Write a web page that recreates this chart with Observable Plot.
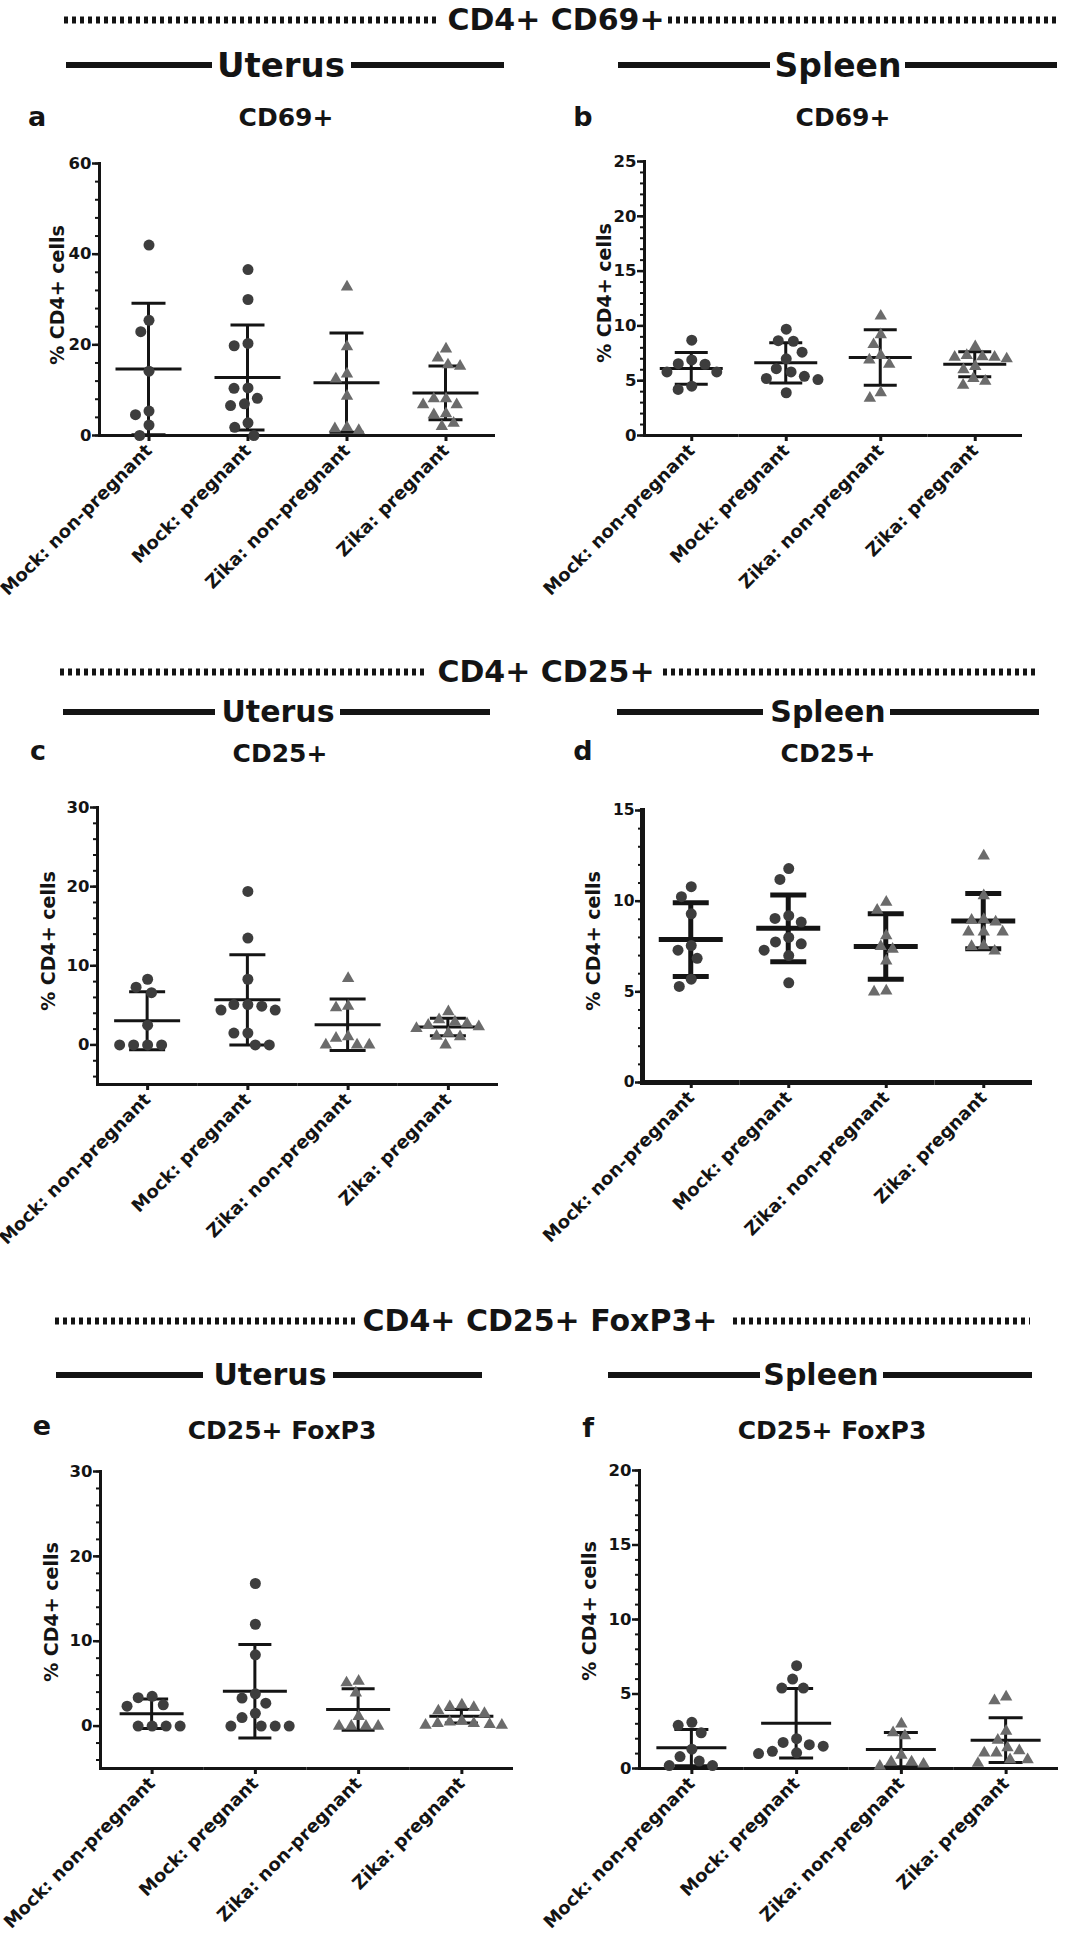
<!DOCTYPE html>
<html>
<head>
<meta charset="utf-8">
<script src="https://cdn.jsdelivr.net/npm/d3@7"></script>
<script src="https://cdn.jsdelivr.net/npm/@observablehq/plot@0.6"></script>
<style>
  body { margin: 0; background: #fff; }
  #page { position: relative; width: 1085px; height: 1950px; overflow: hidden;
          font-family: "DejaVu Sans", sans-serif; font-weight: bold; color: #141414; background: #fff; }
  .t { position: absolute; transform: translate(-50%, -50%); white-space: nowrap; line-height: 1; }
  .ylab { position: absolute; transform: translate(-50%, -50%) rotate(-90deg); white-space: nowrap; line-height: 1; font-size: 19px; z-index: 2; }
  .dotline { position: absolute; height: 7px; transform: translateY(-50%);
             background: repeating-linear-gradient(to right, #141414 0 4px, transparent 4px 8px); }
  .solid { position: absolute; height: 6px; transform: translateY(-50%); background: #141414; }
  .panel { position: absolute; }
</style>
</head>
<body>
<div id="page"></div>
<script>
// ---------------- data ----------------
const groups = ["Mock: non-pregnant", "Mock: pregnant", "Zika: non-pregnant", "Zika: pregnant"];
const isZika = [false, false, true, true];
const yLabel = "% CD4+ cells";

// a: Uterus CD69+
const uterusCD69 = [
  [42.0, 25.4, 22.9, 14.2, 5.4, 4.6, 2.3, 0.0],
  [36.6, 30.0, 20.3, 19.8, 10.5, 10.4, 8.2, 7.0, 6.6, 2.8, 1.8, 0.0],
  [32.8, 19.6, 13.6, 12.5, 8.7, 1.8, 1.5, 1.1],
  [19.1, 17.1, 15.6, 15.3, 8.1, 8.1, 6.8, 6.8, 4.8, 4.6, 2.7, 2.0]
];
const uterusCD69Mean = [14.65, 12.8, 11.65, 9.4];
const uterusCD69SD = [14.5, 11.6, 10.95, 5.95];
const uterusCD69Ticks = [0, 20, 40, 60];

// b: Spleen CD69+
const spleenCD69 = [
  [8.7, 6.9, 6.55, 6.5, 5.8, 5.8, 4.5, 4.2],
  [9.7, 8.65, 8.6, 7.6, 7.0, 6.1, 5.8, 5.4, 5.2, 5.1, 3.9],
  [10.9, 9.2, 8.3, 7.3, 6.9, 6.5, 3.9, 3.4],
  [8.1, 7.3, 7.2, 7.15, 7.15, 7.0, 6.3, 6.0, 5.2, 4.95, 4.6]
];
const spleenCD69Mean = [6.12, 6.63, 7.12, 6.5];
const spleenCD69SD = [1.45, 1.83, 2.53, 1.14];
const spleenCD69Ticks = [0, 5, 10, 15, 20, 25];

// c: Uterus CD25+
const uterusCD25 = [
  [8.3, 7.3, 6.6, 2.5, 0, 0, 0, 0],
  [19.4, 13.5, 8.3, 5.1, 5.1, 4.9, 4.4, 4.4, 1.5, 1.5, 0, 0],
  [8.4, 4.9, 4.7, 1.05, 0.85, 0, 0, 0],
  [4.2, 3.2, 2.9, 2.7, 2.5, 2.3, 2.1, 1.5, 1.1, 1.05, 0]
];
const uterusCD25Mean = [3.05, 5.7, 2.55, 2.27];
const uterusCD25SD = [3.67, 5.7, 3.25, 1.1];
const uterusCD25Ticks = [0, 10, 20, 30];

// d: Spleen CD25+
const spleenCD25 = [
  [10.8, 10.25, 9.3, 7.55, 7.3, 6.85, 5.7, 5.3],
  [11.8, 11.2, 9.2, 9.05, 8.85, 8.0, 7.75, 7.65, 7.3, 7.0, 5.5],
  [9.95, 9.5, 8.1, 7.5, 7.35, 6.7, 5.05, 5.0],
  [12.5, 10.3, 9.0, 8.95, 8.85, 8.3, 8.3, 8.3, 7.55, 7.5, 7.25]
];
const spleenCD25Mean = [7.88, 8.5, 7.5, 8.9];
const spleenCD25SD = [2.03, 1.84, 1.8, 1.52];
const spleenCD25Ticks = [0, 5, 10, 15];

// e: Uterus CD25+ FoxP3
const uterusFoxP3 = [
  [3.5, 3.35, 2.5, 2.35, 0, 0, 0, 0],
  [16.8, 12.0, 8.4, 3.8, 3.3, 2.7, 1.5, 1.0, 0, 0, 0, 0],
  [5.3, 5.1, 3.9, 1.15, 0, 0, 0, 0],
  [2.5, 2.3, 2.2, 1.8, 1.5, 0.6, 0.5, 0.3, 0.3, 0.2, 0.1, 0.1]
];
const uterusFoxP3Mean = [1.45, 4.1, 1.95, 1.15];
const uterusFoxP3SD = [1.74, 5.5, 2.45, 0.8];
const uterusFoxP3Ticks = [0, 10, 20, 30];

// f: Spleen CD25+ FoxP3
const spleenFoxP3 = [
  [3.1, 2.9, 2.4, 1.3, 0.8, 0.5, 0.2, 0.2],
  [6.9, 6.0, 5.4, 5.4, 2.0, 1.75, 1.6, 1.5, 1.15, 1.05, 1.0],
  [3.0, 2.4, 2.2, 0.9, 0.45, 0.45, 0.3, 0.15],
  [4.8, 4.55, 2.5, 1.9, 1.4, 1.2, 1.05, 1.05, 0.6, 0.6, 0.35]
];
const spleenFoxP3Mean = [1.4, 3.04, 1.27, 1.9];
const spleenFoxP3SD = [1.22, 2.33, 1.15, 1.5];
const spleenFoxP3Ticks = [0, 5, 10, 15, 20];

// ---------------- styles / layout ----------------
const ink = "#141414";
const mockFill = "#3d3d3d";
const zikaFill = "#6b6b6b";
const page = document.getElementById("page");

function addText(txt, x, y, size, cls) {
  const d = document.createElement("div");
  d.className = cls || "t"; d.textContent = txt;
  d.style.left = x + "px"; d.style.top = y + "px";
  if (size) d.style.fontSize = size + "px";
  page.appendChild(d);
}
function addLine(cls, x1, x2, y) {
  const d = document.createElement("div");
  d.className = cls;
  d.style.left = x1 + "px"; d.style.width = (x2 - x1) + "px"; d.style.top = y + "px";
  page.appendChild(d);
}

// Row 1
addLine("dotline", 64, 440, 20); addText("CD4+ CD69+", 556, 20, 30); addLine("dotline", 668, 1057, 20);
addLine("solid", 66, 212, 65); addText("Uterus", 281, 65, 34); addLine("solid", 351, 504, 65);
addLine("solid", 618, 770, 65); addText("Spleen", 838, 65, 33); addLine("solid", 905, 1057, 65);
addText("a", 37, 116, 27); addText("CD69+", 286, 117, 25);
addText("b", 583, 116, 27); addText("CD69+", 843, 117, 25);
// Row 2
addLine("dotline", 60, 426, 672); addText("CD4+ CD25+", 546, 672, 30); addLine("dotline", 663, 1037, 672);
addLine("solid", 63, 215, 712); addText("Uterus", 278, 712, 30); addLine("solid", 340, 490, 712);
addLine("solid", 617, 763, 712); addText("Spleen", 828, 712, 30); addLine("solid", 890, 1039, 712);
addText("c", 38, 750, 27); addText("CD25+", 280, 753, 25);
addText("d", 583, 750, 27); addText("CD25+", 828, 753, 25);
// Row 3
addLine("dotline", 55, 358, 1321); addText("CD4+ CD25+ FoxP3+", 540, 1321, 30); addLine("dotline", 733, 1030, 1321);
addLine("solid", 56, 203, 1375); addText("Uterus", 270, 1375, 30); addLine("solid", 333, 482, 1375);
addLine("solid", 608, 760, 1375); addText("Spleen", 821, 1375, 30); addLine("solid", 883, 1032, 1375);
addText("e", 42, 1425, 27); addText("CD25+ FoxP3", 282, 1430, 25);
addText("f", 588, 1427, 27); addText("CD25+ FoxP3", 832, 1430, 25);

const panels = [
  {values: uterusCD69, mean: uterusCD69Mean, sd: uterusCD69SD, major: uterusCD69Ticks, domain: [0, 60], minorStart: 0, minorStep: 4,
   left: 0, top: 140, width: 540, height: 440, mL: 99, mR: 45, mT: 23, mB: 145, lw: 3, barW: 3, meanHalf: 33, capHalf: 17, labX: 57, labY: 295, tickFont: 16.5},
  {values: spleenCD69, mean: spleenCD69Mean, sd: spleenCD69SD, major: spleenCD69Ticks, domain: [0, 25], minorStart: 0, minorStep: 1,
   left: 540, top: 140, width: 545, height: 440, mL: 104, mR: 63, mT: 21, mB: 145, lw: 3, barW: 3, meanHalf: 31.5, capHalf: 16.5, labX: 604, labY: 293, tickFont: 16.5},
  {values: uterusCD25, mean: uterusCD25Mean, sd: uterusCD25SD, major: uterusCD25Ticks, domain: [-5, 30], minorStart: -4, minorStep: 2,
   left: 0, top: 780, width: 540, height: 450, mL: 97, mR: 42, mT: 27, mB: 146, lw: 3, barW: 3, meanHalf: 33, capHalf: 18, labX: 48, labY: 941, tickFont: 16.5},
  {values: spleenCD25, mean: spleenCD25Mean, sd: spleenCD25SD, major: spleenCD25Ticks, domain: [0, 15], minorStart: 0, minorStep: 1,
   left: 540, top: 780, width: 545, height: 450, mL: 102, mR: 53, mT: 30, mB: 148, lw: 5, barW: 5, meanHalf: 32, capHalf: 18, labX: 593, labY: 941, tickFont: 15.5},
  {values: uterusFoxP3, mean: uterusFoxP3Mean, sd: uterusFoxP3SD, major: uterusFoxP3Ticks, domain: [-5, 30], minorStart: -4, minorStep: 2,
   left: 0, top: 1450, width: 540, height: 500, mL: 100, mR: 27, mT: 21, mB: 182, lw: 3, barW: 3, meanHalf: 32, capHalf: 16.5, labX: 51, labY: 1612, tickFont: 16.5},
  {values: spleenFoxP3, mean: spleenFoxP3Mean, sd: spleenFoxP3SD, major: spleenFoxP3Ticks, domain: [0, 20], minorStart: 0, minorStep: 1,
   left: 540, top: 1450, width: 545, height: 500, mL: 99, mR: 27, mT: 20, mB: 182, lw: 3, barW: 3, meanHalf: 35, capHalf: 17, labX: 589, labY: 1611, tickFont: 16.5}
];

for (const cfg of panels) {
  const pts = [];
  cfg.values.forEach((vals, gi) => vals.forEach(v => pts.push({group: groups[gi], value: v, zika: isZika[gi]})));
  const stats = groups.map((g, gi) => ({group: g, mean: cfg.mean[gi], lo: cfg.mean[gi] - cfg.sd[gi], hi: cfg.mean[gi] + cfg.sd[gi]}));
  const band = (cfg.width - cfg.mL - cfg.mR) / groups.length;
  const meanInset = band / 2 - cfg.meanHalf;
  const capInset = band / 2 - cfg.capHalf;
  const stemInset = band / 2 - cfg.barW / 2;
  const minor = d3.range(cfg.minorStart, cfg.domain[1] + 1e-9, cfg.minorStep);

  const chart = Plot.plot({
    width: cfg.width, height: cfg.height,
    marginLeft: cfg.mL, marginRight: cfg.mR, marginTop: cfg.mT, marginBottom: cfg.mB,
    style: {fontFamily: '"DejaVu Sans", sans-serif', fontWeight: "bold", color: ink, background: "transparent", overflow: "visible"},
    fx: {domain: groups, padding: 0, round: false, label: null},
    y: {domain: cfg.domain, label: null},
    marks: [
      Plot.ruleY([cfg.domain[0]], {stroke: ink, strokeWidth: cfg.lw}),
      Plot.frame({anchor: "left", facetAnchor: "left", stroke: ink, strokeWidth: cfg.lw}),
      Plot.axisY({ticks: minor, tickSize: 4, text: null, label: null, stroke: ink, strokeWidth: 2}),
      Plot.axisY({ticks: cfg.major, tickSize: 7, tickPadding: 1, label: null, fontSize: cfg.tickFont, stroke: ink, strokeWidth: 2.5, fill: ink}),
      Plot.axisFx({anchor: "bottom", tickRotate: -45, tickSize: 6, tickPadding: 6, label: null, fontSize: 18, stroke: ink, strokeWidth: 3, fill: ink}),
      Plot.rect(stats, {fx: "group", y1: "lo", y2: "hi", insetLeft: stemInset, insetRight: stemInset, fill: ink}),
      Plot.tickY(stats, {fx: "group", y: "mean", insetLeft: meanInset, insetRight: meanInset, stroke: ink, strokeWidth: cfg.barW}),
      Plot.tickY(stats, {fx: "group", y: "lo", insetLeft: capInset, insetRight: capInset, stroke: ink, strokeWidth: cfg.barW}),
      Plot.tickY(stats, {fx: "group", y: "hi", insetLeft: capInset, insetRight: capInset, stroke: ink, strokeWidth: cfg.barW}),
      Plot.dot(pts.filter(d => !d.zika), Plot.dodgeX({anchor: "middle", padding: 3, fx: "group", y: "value", r: 5.5, fill: mockFill, symbol: "circle"})),
      Plot.dot(pts.filter(d => d.zika), Plot.dodgeX({anchor: "middle", padding: 3, fx: "group", y: "value", r: 4.6, fill: zikaFill, symbol: "triangle"}))
    ]
  });
  const holder = document.createElement("div");
  holder.className = "panel";
  holder.style.left = cfg.left + "px"; holder.style.top = cfg.top + "px";
  holder.style.width = cfg.width + "px"; holder.style.height = cfg.height + "px";
  holder.appendChild(chart);
  page.appendChild(holder);
  addText(yLabel, cfg.labX, cfg.labY, null, "ylab");
}
</script>
</body>
</html>
